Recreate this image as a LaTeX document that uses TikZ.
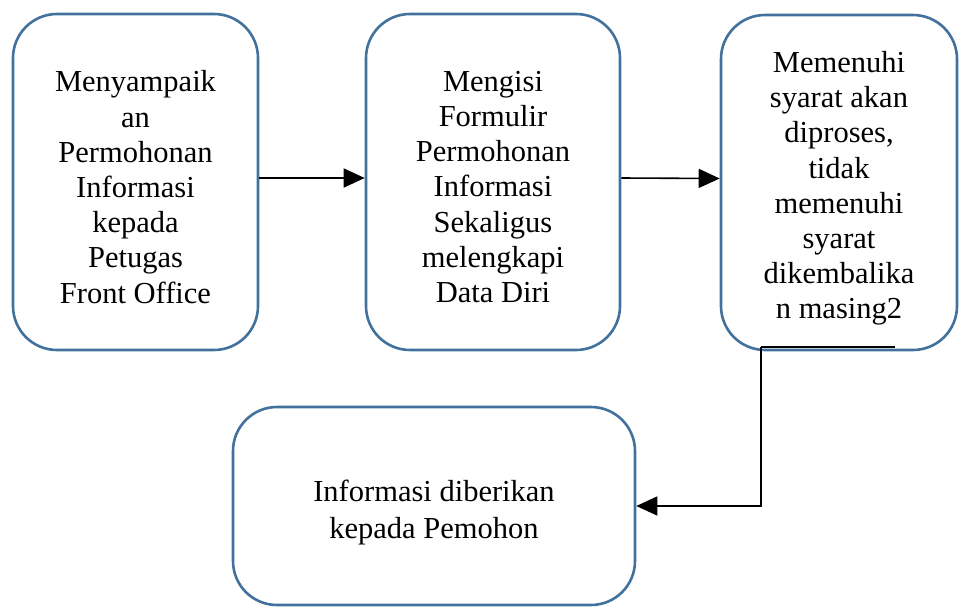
\documentclass[tikz,border=0pt]{standalone}
\usepackage{fontspec}
\setmainfont{Liberation Serif}
\usetikzlibrary{arrows.meta}
\definecolor{boxblue}{RGB}{65,113,156}
\tikzset{
  procbox/.style={draw=boxblue, line width=2.6pt, rounded corners=44pt, fill=white, inner sep=0pt},
  boxtext/.style={align=center, inner sep=0pt, font=\fontsize{30.5}{35.2}\selectfont},
  conn/.style={draw=black, line width=1.6pt, -{Triangle[length=21pt,width=19pt]}},
  plain/.style={draw=black, line width=1.6pt}
}
\begin{document}
\begin{tikzpicture}[x=1pt,y=-1pt]
\useasboundingbox (0,0) rectangle (959,606);
\node[procbox, minimum width=245pt, minimum height=336pt] (b1) at (135.5,182) {};
\node[boxtext] (t1) at ([yshift=-5pt]b1.center)
  {Menyampaik\\an\\Permohonan\\Informasi\\kepada\\Petugas\\Front Office};
\node[procbox, minimum width=254pt, minimum height=336pt] (b2) at (493,182) {};
\node[boxtext] (t2) at ([yshift=-5pt]b2.center)
  {Mengisi\\Formulir\\Permohonan\\Informasi\\Sekaligus\\melengkapi\\Data Diri};
\node[procbox, minimum width=236pt, minimum height=335pt] (b3) at (839,182.5) {};
\node[boxtext] (t3) at ([yshift=-6pt]b3.center)
  {Memenuhi\\syarat akan\\diproses,\\tidak\\memenuhi\\syarat\\dikembalika\\n masing2};
\node[procbox, minimum width=402pt, minimum height=198pt] (b4) at (434,506) {};
\node[boxtext, font=\fontsize{30.5}{37}\selectfont] (t4) at ([yshift=-6pt]b4.center)
  {Informasi diberikan\\kepada Pemohon};
\draw[conn] ([yshift=4pt]b1.east) -- ([yshift=4pt]b2.west);
\draw[conn] ([yshift=4pt]b2.east) -- ([yshift=4pt]b3.west);
\coordinate (c1) at (895,347);
\coordinate (c2) at (761,347);
\draw[plain] (c1) -- (c2);
\draw[conn] (c2) |- (b4.east);
\end{tikzpicture}
\end{document}
